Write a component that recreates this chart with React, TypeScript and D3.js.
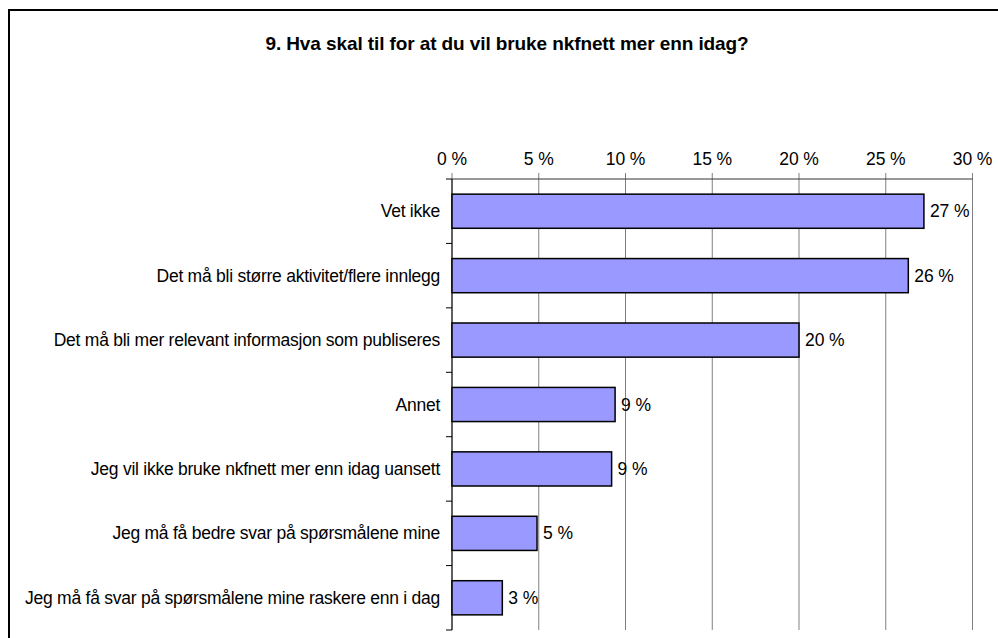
import React from "react";
import * as d3 from "d3";

const title = "9. Hva skal til for at du vil bruke nkfnett mer enn idag?";
const categories = [
  "Vet ikke",
  "Det må bli større aktivitet/flere innlegg",
  "Det må bli mer relevant informasjon som publiseres",
  "Annet",
  "Jeg vil ikke bruke nkfnett mer enn idag uansett",
  "Jeg må få bedre svar på spørsmålene mine",
  "Jeg må få svar på spørsmålene mine raskere enn i dag",
];
const values = [27.2, 26.3, 20.0, 9.4, 9.2, 4.9, 2.9];
const labels = ["27 %", "26 %", "20 %", "9 %", "9 %", "5 %", "3 %"];
const ticks = [0, 5, 10, 15, 20, 25, 30];

const W = 998;
const H = 638;
const FONT = "'Liberation Sans', Arial, sans-serif";

export default function App() {
  const left = 452, right = 972.5, top = 179, bottom = 630;
  const x = d3.scaleLinear().domain([0, 30]).range([left, right]);
  const y = d3.scaleBand<string>().domain(categories).range([top, bottom]).paddingInner(0.47).paddingOuter(0.235);
  const band = d3.scaleBand<string>().domain(categories).range([top, bottom]);
  return (
    <svg width={W} height={H} style={{ position: "absolute", left: 0, top: 0, background: "#fff" }} fontFamily={FONT}>
      <rect x={9} y={10} width={W + 20} height={H + 20} fill="#fff" stroke="#000" strokeWidth={2} />
      <text x={507} y={50} textAnchor="middle" fontSize={19} fontWeight="bold" letterSpacing={-0.1}>{title}</text>
      {ticks.map((t) => (
        <g key={t}>
          <line x1={x(t)} x2={x(t)} y1={173} y2={bottom} stroke="#808080" strokeWidth={1} />
          <text x={x(t)} y={165} textAnchor="middle" fontSize={17.5} letterSpacing={-0.1}>{t} %</text>
        </g>
      ))}
      <line x1={left} x2={right} y1={top} y2={top} stroke="#333" strokeWidth={1} />
      <line x1={left} x2={left} y1={top} y2={bottom} stroke="#000" strokeWidth={1} />
      {categories.map((c) => (
        <line key={"t" + c} x1={left - 6} x2={left} y1={band(c)!} y2={band(c)!} stroke="#000" />
      ))}
      <line x1={left - 6} x2={left} y1={bottom} y2={bottom} stroke="#000" />
      {categories.map((c, i) => (
        <g key={c}>
          <rect x={x(0)} y={y(c)!} width={x(values[i]) - x(0)} height={y.bandwidth()} fill="#9999FF" stroke="#000" strokeWidth={1.5} />
          <text x={440} y={y(c)! + y.bandwidth() / 2} dy="0.35em" textAnchor="end" fontSize={17.5} letterSpacing={-0.25}>{c}</text>
          <text x={x(values[i]) + 6} y={y(c)! + y.bandwidth() / 2} dy="0.35em" fontSize={17.5} letterSpacing={-0.1}>{labels[i]}</text>
        </g>
      ))}
    </svg>
  );
}
